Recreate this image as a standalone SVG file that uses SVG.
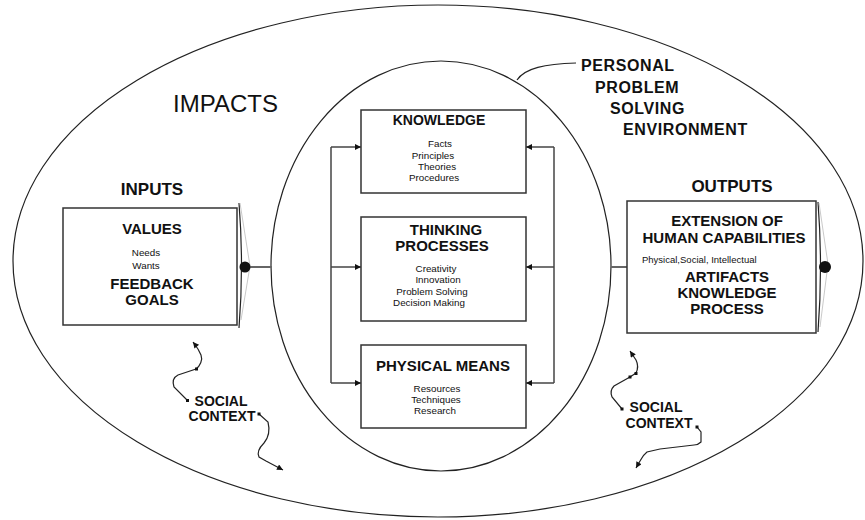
<svg xmlns="http://www.w3.org/2000/svg" width="865" height="520" viewBox="0 0 865 520">
<defs>
<style>
text{font-family:"Liberation Sans",Arial,sans-serif;fill:#111;}
.b{font-weight:bold;}
.t15{font-size:15px;font-weight:bold;text-anchor:middle;}
.t14{font-size:14px;font-weight:bold;text-anchor:middle;}
.s{font-size:9.8px;text-anchor:middle;}
.box{fill:#fff;stroke:#333;stroke-width:1.5;}
.ln{fill:none;stroke:#222;stroke-width:1.2;}
.lg{fill:none;stroke:#444;stroke-width:1.5;}
.faint{fill:none;stroke:#bbb;stroke-width:0.8;}
.mk{fill:#111;}
</style>
<marker id="ah" viewBox="0 0 10 10" refX="10" refY="5" markerWidth="8" markerHeight="6" markerUnits="userSpaceOnUse" orient="auto">
<path d="M0,0 L10,5 L0,10 z" fill="#111"/>
</marker>
</defs>
<rect width="865" height="520" fill="#fff"/>

<g id="outer-env">
<ellipse cx="438" cy="261" rx="425" ry="256" class="ln"/>
<text x="173" y="112" font-size="24">IMPACTS</text>
</g>

<g id="personal-env">
<ellipse cx="441" cy="266" rx="170" ry="205" class="ln"/>
<path d="M517,80 C525,68 545,64 576,63" class="ln"/>
<text class="b" font-size="16" letter-spacing="0.6" x="581" y="71">PERSONAL</text>
<text class="b" font-size="16" letter-spacing="0.6" x="595" y="93">PROBLEM</text>
<text class="b" font-size="16" letter-spacing="0.6" x="610" y="114">SOLVING</text>
<text class="b" font-size="16" letter-spacing="0.6" x="623" y="135">ENVIRONMENT</text>
</g>

<g id="connectors">
<path d="M331,147 V383" class="lg"/>
<path d="M331,147 H361" class="lg" marker-end="url(#ah)"/>
<path d="M331,267 H361" class="lg" marker-end="url(#ah)"/>
<path d="M331,383 H361" class="lg" marker-end="url(#ah)"/>
<path d="M554,147 V383" class="lg"/>
<path d="M554,147 H526" class="lg" marker-end="url(#ah)"/>
<path d="M554,267 H526" class="lg" marker-end="url(#ah)"/>
<path d="M554,383 H526" class="lg" marker-end="url(#ah)"/>
<path d="M250,267 H272" stroke="#666" stroke-width="2" fill="none"/>
<path d="M611,267 H627" stroke="#666" stroke-width="2" fill="none"/>
</g>

<g id="knowledge">
<rect x="361" y="110" width="165" height="83" class="box"/>
<text class="t14" x="439" y="125">KNOWLEDGE</text>
<text class="s" x="440" y="147">Facts</text>
<text class="s" x="433" y="159">Principles</text>
<text class="s" x="437" y="170">Theories</text>
<text class="s" x="434" y="181">Procedures</text>
</g>

<g id="thinking">
<rect x="361" y="217" width="165" height="104" class="box"/>
<text class="t15" x="446" y="235">THINKING</text>
<text class="t15" x="442" y="251">PROCESSES</text>
<text class="s" x="436" y="272">Creativity</text>
<text class="s" x="438" y="283">Innovation</text>
<text class="s" x="432" y="295">Problem Solving</text>
<text class="s" x="429" y="306">Decision Making</text>
</g>

<g id="physical">
<rect x="361" y="345" width="165" height="83" class="box"/>
<text class="t15" x="443" y="371">PHYSICAL MEANS</text>
<text class="s" x="437" y="392">Resources</text>
<text class="s" x="436" y="403">Techniques</text>
<text class="s" x="435" y="414">Research</text>
</g>

<g id="inputs">
<text class="b" font-size="17" text-anchor="middle" x="152" y="195">INPUTS</text>
<rect x="63" y="208" width="174" height="117" class="box"/>
<path d="M239,203 Q244,265 239,328" class="ln" stroke-width="1"/>
<path d="M240,203 L250,266 L241,320" class="faint"/>
<circle cx="245" cy="267" r="5.5" class="mk"/>
<text class="t15" x="152" y="234">VALUES</text>
<text class="s" x="146" y="256">Needs</text>
<text class="s" x="146" y="269">Wants</text>
<text class="t15" x="152" y="289">FEEDBACK</text>
<text class="t15" x="152" y="305">GOALS</text>
</g>

<g id="outputs">
<text class="b" font-size="17" text-anchor="middle" x="732" y="192">OUTPUTS</text>
<rect x="627" y="201" width="189" height="132" class="box"/>
<path d="M818,202 Q823,267 818,332" class="ln" stroke-width="1"/>
<path d="M819,203 L828,264 L820,327" class="faint"/>
<circle cx="825" cy="267" r="6" class="mk"/>
<text class="t15" x="727" y="226">EXTENSION OF</text>
<text class="t15" x="724" y="243">HUMAN CAPABILITIES</text>
<text font-size="9.5" x="642" y="263">Physical,Social, Intellectual</text>
<text class="t15" x="727" y="282">ARTIFACTS</text>
<text class="t15" x="727" y="298">KNOWLEDGE</text>
<text class="t15" x="727" y="314">PROCESS</text>
</g>

<g id="social-left">
<text class="t14" x="221" y="406">SOCIAL</text>
<text class="t14" x="222" y="421">CONTEXT</text>
<path d="M188,401 L174,387 C172,381 174,377 178,375 L196,369 C200,366 203,360 201,355 C199,350 197,347 193,342" class="ln" marker-end="url(#ah)"/>
<path d="M259,414 L268,422 C270,430 269,437 264,443 C259,448 257,453 259,457 L266,461 L283,470" class="ln" marker-end="url(#ah)"/>
<rect x="186" y="399" width="3" height="3" class="mk"/>
<rect x="195" y="367.5" width="3" height="3" class="mk"/>
<rect x="257.5" y="412.5" width="3" height="3" class="mk"/>
</g>

<g id="social-right">
<text class="t14" x="656" y="412">SOCIAL</text>
<text class="t14" x="659" y="428">CONTEXT</text>
<path d="M622,409 L612,397 C610,392 611,389 614,386 L630,377 L636,373 C638,369 638,364 636,360 L630,351" class="ln" marker-end="url(#ah)"/>
<path d="M697,427 L701,432 L701,442 C699,444 697,445 694,445 L660,449 L647,452 C643,455 641,459 640,461 L636,468" class="ln" marker-end="url(#ah)"/>
<rect x="620.5" y="407.5" width="3" height="3" class="mk"/>
<rect x="628.5" y="375.5" width="3" height="3" class="mk"/>
<rect x="634.5" y="372" width="3" height="3" class="mk"/>
<rect x="695.5" y="425.5" width="3" height="3" class="mk"/>
</g>
</svg>
